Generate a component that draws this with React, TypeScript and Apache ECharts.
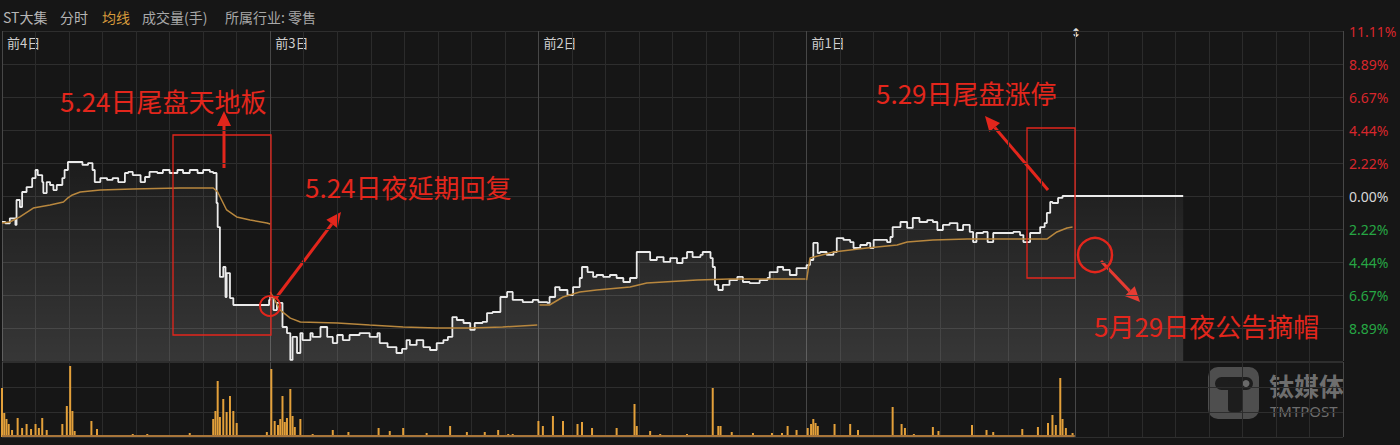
import React, { useEffect, useRef } from 'react';
import * as echarts from 'echarts';

// ---------- data ----------
const headerItems = ['ST大集', '分时', '均线', '成交量(手)', '所属行业: 零售'];
const dayLabels = ['前4日', '前3日', '前2日', '前1日'];
const yTickLabels = ['', '8.89%', '6.67%', '4.44%', '2.22%', '0.00%', '2.22%', '4.44%', '6.67%', '8.89%', '11.11%'];

// price: [minute index over 5 sessions (240 per day), % change]
const priceDay1: [number, number][] = [
  [0, -1.75], [3, -1.84], [7, -1.5], [12, -1.95], [13, -0.27], [16, -0.74], [18, 0.27], [22, 0.6], [27, 1.2],
  [30, 1.75], [32, 1.41], [36, 0.94], [37, 0.2], [40, 0.94], [43, 0.74], [46, 0.4], [49, 0.74], [54, 1.21],
  [56, 1.75], [59, 2.29], [70, 2.29], [72, 2.09], [77, 2.22], [81, 1.75], [83, 0.94], [88, 1.21], [94, 1.08],
  [99, 1.21], [104, 0.94], [110, 1.55], [113, 1.62], [117, 1.41], [124, 0.94], [128, 1.28], [132, 1.62],
  [139, 1.55], [144, 1.75], [150, 1.55], [157, 1.75], [162, 1.55], [168, 1.75], [175, 1.55], [180, 1.75],
  [186, 1.62], [189, 1.55], [192, -0.47], [193, -2.09], [195, -5.45], [198, -4.78], [200, -6.8], [201, -5.19],
  [204, -6.87], [207, -7.34], [237, -7.34], [239, -7.0],
];
const priceDay2: [number, number][] = [
  [240, -6.8], [243, -7.68], [246, -7.2], [251, -8.82], [255, -9.23], [258, -11.04], [260, -9.49], [264, -10.57],
  [267, -9.23], [269, -9.7], [276, -9.23], [278, -9.49], [285, -8.82], [291, -9.49], [296, -9.9], [300, -9.36],
  [305, -9.7], [311, -9.36], [320, -9.23], [329, -9.49], [336, -9.23], [338, -9.9], [345, -10.17], [350, -10.17],
  [353, -10.57], [358, -10.3], [362, -9.7], [365, -10.03], [371, -9.7], [377, -10.17], [383, -10.37], [389, -9.9],
  [395, -9.7], [399, -9.49], [403, -8.15], [407, -8.35], [413, -8.55], [419, -9.02], [423, -8.55], [430, -8.48],
  [434, -7.88], [439, -7.81], [446, -6.8], [452, -6.46], [457, -7.0], [466, -7.14], [475, -7.0],
];
const priceDay3: [number, number][] = [
  [480, -7.14], [482, -7.14], [488, -7.2], [490, -6.8], [495, -6.13], [499, -6.33], [506, -6.67], [511, -6.13],
  [517, -5.52], [519, -4.78], [524, -5.12], [529, -5.45], [532, -5.32], [538, -5.45], [544, -5.32], [550, -5.52],
  [556, -5.79], [562, -5.52], [566, -5.52], [568, -3.77], [573, -3.77], [580, -4.31], [586, -4.11], [592, -4.44],
  [598, -4.18], [604, -4.51], [609, -4.18], [613, -3.77], [618, -4.11], [625, -3.97], [627, -3.77], [634, -4.18],
  [636, -4.78], [638, -5.99], [641, -6.33], [645, -5.99], [651, -5.66], [658, -5.45], [663, -5.79], [669, -5.86],
  [678, -5.66], [685, -5.52], [687, -5.12], [694, -4.78], [699, -4.98], [705, -5.32], [711, -4.85], [717, -4.85],
];
const priceDay4: [number, number][] = [
  [720, -4.65], [723, -4.31], [726, -3.16], [730, -3.84], [732, -3.77], [738, -3.97], [744, -3.77], [747, -2.83],
  [753, -2.96], [759, -3.1], [762, -3.5], [768, -3.3], [774, -3.16], [777, -3.5], [780, -2.96], [786, -2.96],
  [792, -3.1], [795, -2.76], [797, -2.09], [804, -1.75], [810, -2.15], [815, -1.48], [821, -1.75], [828, -1.62],
  [833, -1.75], [837, -2.29], [842, -1.95], [848, -1.82], [855, -2.29], [860, -1.95], [866, -2.42], [869, -3.1],
  [872, -2.49], [878, -2.42], [882, -3.1], [887, -2.49], [893, -2.49], [905, -2.42], [911, -2.63], [914, -3.1],
  [920, -2.49], [926, -2.49], [929, -2.09], [933, -1.82], [935, -1.14], [938, -0.4], [940, -0.47], [945, -0.13],
  [949, 0], [960, 0],
];
const priceDay5: [number, number][] = [[961, 0], [1057, 0]];

const avgDay1: [number, number][] = [
  [0, -1.82], [7, -1.75], [16, -1.41], [28, -0.81], [43, -0.6], [55, -0.4], [59, -0.13], [63, 0.07], [70, 0.27],
  [88, 0.4], [117, 0.47], [159, 0.54], [189, 0.54], [193, 0.27], [201, -0.94], [210, -1.41], [222, -1.62],
  [237, -1.82], [240, -1.89],
];
const avgDay2: [number, number][] = [
  [240, -6.46], [249, -7.68], [258, -8.22], [267, -8.48], [300, -8.55], [329, -8.69], [359, -8.82], [389, -8.89],
  [419, -8.89], [448, -8.82], [479, -8.69],
];
const avgDay3: [number, number][] = [
  [481, -7.34], [490, -7.34], [502, -6.8], [517, -6.46], [532, -6.33], [562, -6.13], [577, -5.86], [592, -5.79],
  [622, -5.66], [651, -5.59], [681, -5.59], [719, -5.59],
];
const avgDay4: [number, number][] = [
  [720, -5.66], [723, -4.18], [744, -3.77], [774, -3.5], [801, -3.3], [810, -3.1], [833, -2.96], [864, -2.9],
  [893, -2.9], [935, -2.9], [944, -2.42], [953, -2.15], [958, -2.09],
];

// volume (手): [minute index, volume]
const volumeData: [number, number][] = [
  [0, 4900], [2, 2400], [4, 1800], [6, 1300], [9, 700], [14, 1900], [18, 900], [22, 1300], [26, 800], [30, 1300],
  [33, 900], [36, 1900], [40, 700], [54, 1300], [58, 3100], [61, 7100], [63, 2600], [65, 600], [80, 1600],
  [85, 800], [117, 300], [130, 300], [168, 400], [189, 1800], [191, 2600], [193, 5600], [195, 2000], [198, 3800],
  [201, 2500], [204, 4100], [207, 2600], [210, 1400], [237, 500], [241, 6800], [244, 1600], [247, 1200],
  [249, 1800], [251, 4100], [253, 1500], [255, 1900], [258, 4800], [260, 2100], [262, 1000], [267, 1800],
  [278, 300], [296, 700], [310, 500], [337, 900], [347, 600], [359, 900], [380, 400], [401, 1100], [416, 500],
  [432, 500], [444, 700], [453, 300], [457, 300], [480, 1600], [484, 1100], [493, 2100], [502, 1600], [515, 1300],
  [519, 1500], [528, 900], [550, 900], [566, 3300], [568, 1100], [580, 600], [589, 300], [613, 300], [636, 4900],
  [641, 1100], [643, 1100], [653, 500], [672, 400], [689, 400], [698, 400], [703, 1100], [711, 700], [721, 900],
  [724, 1300], [726, 1800], [728, 1400], [730, 1100], [745, 1300], [759, 1300], [766, 700], [797, 3000],
  [805, 1300], [808, 900], [816, 300], [833, 1000], [838, 600], [868, 1200], [881, 700], [887, 500], [913, 800],
  [927, 1000], [936, 1400], [940, 2200], [943, 1200], [947, 5900], [949, 1800], [952, 900], [958, 400],
];

// ---------- layout / style ----------
const W = 1400;
const H = 445;
const GRID_LEFT = 2;
const GRID_RIGHT = 57;
const PLOT_W = W - GRID_LEFT - GRID_RIGHT;
const DAY_W = PLOT_W / 5;
const RED = '#e3261c';
const BG = '#161616';

function arrow(x1: number, y1: number, x2: number, y2: number) {
  const ang = Math.atan2(y2 - y1, x2 - x1);
  const hl = 15;
  const hw = 7;
  const bx = x2 - hl * Math.cos(ang);
  const by = y2 - hl * Math.sin(ang);
  const px = -Math.sin(ang);
  const py = Math.cos(ang);
  return {
    type: 'group',
    z: 100,
    children: [
      { type: 'line', shape: { x1, y1, x2: bx, y2: by }, style: { stroke: RED, lineWidth: 3 } },
      {
        type: 'polygon',
        shape: { points: [[x2, y2], [bx + px * hw, by + py * hw], [bx - px * hw, by - py * hw]] },
        style: { fill: RED },
      },
    ],
  };
}

function annotationText(text: string, x: number, y: number) {
  return {
    type: 'text',
    x,
    y,
    z: 100,
    style: {
      text,
      fill: RED,
      font: '26px "Noto Sans CJK SC", sans-serif',
      verticalAlign: 'middle',
    },
  };
}

export default function App() {
  const ref = useRef<HTMLDivElement>(null);

  useEffect(() => {
    if (!ref.current) return;
    const chart = echarts.init(ref.current, null, { renderer: 'svg' });

    const gridLineColors = ['#474747', '#2b2b2b', '#2b2b2b', '#2b2b2b', '#2b2b2b', '#2b2b2b', '#2b2b2b', '#2b2b2b'];
    const priceData = [...priceDay1, ...priceDay2, ...priceDay3, ...priceDay4, ...priceDay5];
    const avgDays = [avgDay1, avgDay2, avgDay3, avgDay4];

    const headerX = [3, 60, 102, 142, 225];
    const headerColors = ['#b5b5b5', '#b5b5b5', '#d69b3c', '#a8a8a8', '#a8a8a8'];

    const graphics: any[] = [];
    headerItems.forEach((t, i) => {
      graphics.push({
        type: 'text',
        x: headerX[i],
        y: 17,
        style: { text: t, fill: headerColors[i], font: '14px "Noto Sans CJK SC", sans-serif', verticalAlign: 'middle' },
      });
    });
    dayLabels.forEach((t, i) => {
      graphics.push({
        type: 'text',
        x: GRID_LEFT + i * DAY_W + 5,
        y: 42,
        style: { text: t, fill: '#cfcfcf', font: '13px "Noto Sans CJK SC", sans-serif', verticalAlign: 'middle' },
      });
    });
    graphics.push({
      type: 'text',
      x: GRID_LEFT + 4 * DAY_W - 4,
      y: 33,
      style: { text: '↕', fill: '#e0e0e0', font: 'bold 12px "DejaVu Sans", sans-serif', verticalAlign: 'middle' },
    });

    // annotations
    graphics.push(annotationText('5.24日尾盘天地板', 60, 100));
    graphics.push(annotationText('5.24日夜延期回复', 305, 186));
    graphics.push(annotationText('5.29日尾盘涨停', 876, 92));
    graphics.push(annotationText('5月29日夜公告摘帽', 1094, 325));
    graphics.push({
      type: 'rect', z: 100, shape: { x: 173, y: 135, width: 98, height: 200 },
      style: { fill: 'none', stroke: RED, lineWidth: 1.3 },
    });
    graphics.push({
      type: 'rect', z: 100, shape: { x: 1027, y: 128, width: 48, height: 150 },
      style: { fill: 'none', stroke: RED, lineWidth: 1.3 },
    });
    graphics.push({
      type: 'circle', z: 100, shape: { cx: 270, cy: 306, r: 10 },
      style: { fill: 'none', stroke: RED, lineWidth: 2 },
    });
    graphics.push({
      type: 'circle', z: 100, shape: { cx: 1095, cy: 255, r: 17 },
      style: { fill: 'none', stroke: RED, lineWidth: 2.5 },
    });
    graphics.push(arrow(224, 168, 224, 111));
    graphics.push(arrow(276, 298, 341, 212));
    graphics.push(arrow(1048, 190, 985, 116));
    graphics.push(arrow(1101, 261, 1140, 302));

    // watermark
    graphics.push({
      type: 'group',
      z: 90,
      children: [
        { type: 'rect', shape: { x: 1208, y: 367, width: 51, height: 52, r: 10 }, style: { fill: 'rgba(125,125,125,0.55)' } },
        { type: 'rect', shape: { x: 1215, y: 377, width: 38, height: 13, r: 6.5 }, style: { fill: '#1d1d1d' } },
        { type: 'rect', shape: { x: 1228, y: 380, width: 14, height: 32, r: 3 }, style: { fill: '#1d1d1d' } },
        { type: 'circle', shape: { cx: 1246, cy: 383.5, r: 3.5 }, style: { fill: 'rgba(125,125,125,0.8)' } },
        {
          type: 'text', x: 1269, y: 385,
          style: { text: '钛媒体', fill: 'rgba(140,140,140,0.75)', font: 'bold 25px "Noto Sans CJK SC", sans-serif', verticalAlign: 'middle' },
        },
        {
          type: 'text', x: 1270, y: 411,
          style: { text: 'TMTPOST', fill: 'rgba(140,140,140,0.75)', font: '15px "Noto Sans", sans-serif', verticalAlign: 'middle' },
        },
      ],
    });

    const xAxisBase = {
      type: 'value',
      min: 0,
      max: 1200,
      interval: 30,
      axisLabel: { show: false },
      axisLine: { show: false },
      axisTick: { show: false },
      splitLine: { show: true, lineStyle: { color: gridLineColors, width: 1 } },
    };

    const option: any = {
      animation: false,
      backgroundColor: BG,
      grid: [
        { left: GRID_LEFT, right: GRID_RIGHT, top: 31, height: 330 },
        { left: GRID_LEFT, right: GRID_RIGHT, top: 362, height: 75 },
      ],
      xAxis: [
        { ...xAxisBase, gridIndex: 0 },
        { ...xAxisBase, gridIndex: 1 },
      ],
      yAxis: [
        {
          type: 'value',
          gridIndex: 0,
          position: 'right',
          min: -11.11,
          max: 11.11,
          interval: 2.222,
          axisLine: { show: false },
          axisTick: { show: false },
          splitLine: { show: true, lineStyle: { color: '#2e2e2e' } },
          axisLabel: {
            margin: 6,
            fontSize: 14,
            fontFamily: '"Noto Sans", sans-serif',
            formatter: (v: number) => yTickLabels[Math.round(v / 2.222) + 5] || '',
            color: (v: any) => {
              const n = Number(v);
              if (n > 0.01) return '#d8262c';
              if (n < -0.01) return '#26a644';
              return '#d6d6d6';
            },
          },
        },
        {
          type: 'value',
          gridIndex: 1,
          position: 'right',
          min: 0,
          max: 7500,
          interval: 2500,
          axisLine: { show: false },
          axisTick: { show: false },
          axisLabel: { show: false },
          splitLine: { show: true, lineStyle: { color: '#2e2e2e' } },
        },
      ],
      graphic: graphics,
      series: [
        {
          name: '价格',
          type: 'line',
          xAxisIndex: 0,
          yAxisIndex: 0,
          data: priceData,
          step: 'end',
          symbol: 'none',
          lineStyle: { color: '#ebebeb', width: 1.8 },
          areaStyle: {
            origin: 'start',
            color: new echarts.graphic.LinearGradient(0, 0, 0, 1, [
              { offset: 0, color: 'rgba(255,255,255,0.04)' },
              { offset: 1, color: 'rgba(255,255,255,0.2)' },
            ]),
          },
          z: 3,
        },
        ...avgDays.map((d) => ({
          name: '均线',
          type: 'line',
          xAxisIndex: 0,
          yAxisIndex: 0,
          data: d,
          symbol: 'none',
          lineStyle: { color: '#b8873e', width: 1.5 },
          z: 4,
        })),
        {
          name: '成交量',
          type: 'bar',
          xAxisIndex: 1,
          yAxisIndex: 1,
          data: volumeData,
          barWidth: 2,
          itemStyle: { color: '#e3a03a' },
          markLine: {
            silent: true,
            symbol: 'none',
            label: { show: false },
            lineStyle: { color: '#a8753a', width: 2, type: 'solid' },
            data: [[{ coord: [0, 90] }, { coord: [960, 90] }]],
          },
        },
      ],
    };

    chart.setOption(option);
    return () => chart.dispose();
  }, []);

  return (
    <div
      ref={ref}
      style={{ position: 'fixed', left: 0, top: 0, width: W, height: H, background: BG }}
    />
  );
}
